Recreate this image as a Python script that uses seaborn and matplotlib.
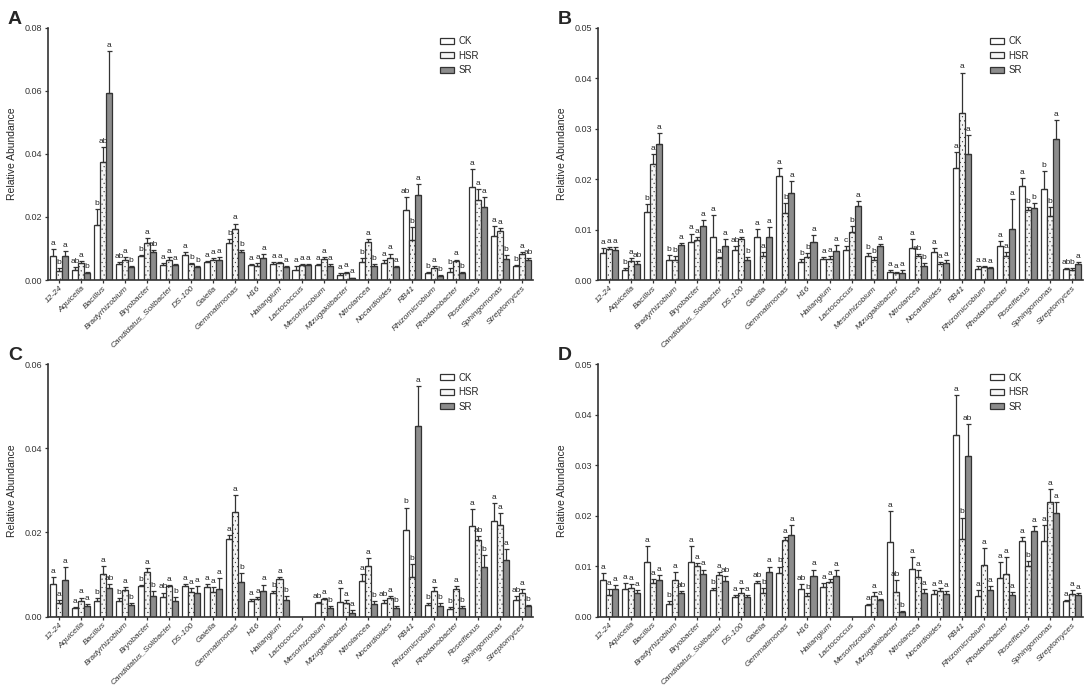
import numpy as np
import pandas as pd
import matplotlib
matplotlib.use("Agg")
import matplotlib.pyplot as plt
import seaborn as sns

genera = ["12-24", "Aquicella", "Bacillus", "Bradyrhizobium", "Bryobacter",
          "Candidatus_Solibacter", "DS-100", "Gaiella", "Gemmatimonas", "H16",
          "Haliangium", "Lactococcus", "Mesorhizobium", "Mizugakiibacter",
          "Nitrolancea", "Nocardioides", "RB41", "Rhizomicrobium",
          "Rhodanobacter", "Roseiflexus", "Sphingomonas", "Streptomyces"]
groups = ["CK", "HSR", "SR"]

# Panel A
A_ck = [0.0076, 0.0033, 0.0175, 0.0050, 0.0075, 0.0047, 0.0079, 0.0058, 0.0118, 0.0047, 0.0050,
        0.0032, 0.0048, 0.0015, 0.0056, 0.0054, 0.0222, 0.0021, 0.0024, 0.0296, 0.0141, 0.0046]
A_hsr = [0.0030, 0.0055, 0.0375, 0.0065, 0.0117, 0.0063, 0.0050, 0.0064, 0.0162, 0.0046, 0.0053,
         0.0047, 0.0066, 0.0023, 0.0120, 0.0069, 0.0127, 0.0038, 0.0059, 0.0253, 0.0154, 0.0082]
A_sr = [0.0076, 0.0023, 0.0593, 0.0040, 0.0088, 0.0048, 0.0042, 0.0064, 0.0090, 0.0069, 0.0040,
        0.0047, 0.0044, 0.0006, 0.0043, 0.0040, 0.0270, 0.0014, 0.0022, 0.0233, 0.0067, 0.0065]
A_ck_err = [0.0021, 0.0007, 0.0050, 0.0006, 0.0004, 0.0007, 0.0010, 0.0003, 0.0013, 0.0005, 0.0006,
            0.0012, 0.0003, 0.0008, 0.0014, 0.0008, 0.0042, 0.0004, 0.0013, 0.0055, 0.0030, 0.0002]
A_hsr_err = [0.0008, 0.0005, 0.0047, 0.0008, 0.0016, 0.0010, 0.0005, 0.0006, 0.0017, 0.0008, 0.0003,
             0.0005, 0.0006, 0.0004, 0.0010, 0.0015, 0.0040, 0.0005, 0.0006, 0.0035, 0.0012, 0.0007]
A_sr_err = [0.0015, 0.0003, 0.0133, 0.0005, 0.0007, 0.0003, 0.0003, 0.0008, 0.0006, 0.0012, 0.0003,
            0.0003, 0.0008, 0.0002, 0.0008, 0.0003, 0.0033, 0.0003, 0.0003, 0.0030, 0.0012, 0.0005]
A_ck_lab = ["a", "ab", "b", "ab", "b", "a", "a", "a", "b", "a", "a",
            "a", "a", "a", "b", "a", "ab", "b", "b", "a", "a", "b"]
A_hsr_lab = ["b", "a", "ab", "a", "a", "a", "b", "a", "a", "a", "a",
             "a", "a", "a", "a", "a", "b", "a", "a", "a", "a", "a"]
A_sr_lab = ["a", "b", "a", "b", "ab", "a", "b", "a", "b", "a", "a",
            "a", "a", "a", "b", "a", "a", "b", "b", "a", "b", "ab"]

# Panel B
B_ck = [0.0053, 0.0020, 0.0134, 0.0040, 0.0075, 0.0085, 0.0060, 0.0086, 0.0206, 0.0036, 0.0041,
        0.0060, 0.0047, 0.0015, 0.0063, 0.0055, 0.0221, 0.0022, 0.0067, 0.0186, 0.0180, 0.0021]
B_hsr = [0.0061, 0.0037, 0.0229, 0.0040, 0.0080, 0.0043, 0.0081, 0.0047, 0.0132, 0.0046, 0.0041,
         0.0095, 0.0040, 0.0013, 0.0047, 0.0032, 0.0331, 0.0026, 0.0048, 0.0138, 0.0127, 0.0020]
B_sr = [0.0059, 0.0032, 0.0270, 0.0069, 0.0108, 0.0068, 0.0040, 0.0085, 0.0172, 0.0076, 0.0057,
        0.0147, 0.0067, 0.0014, 0.0028, 0.0034, 0.0249, 0.0024, 0.0101, 0.0142, 0.0280, 0.0032]
B_ck_err = [0.0011, 0.0003, 0.0017, 0.0009, 0.0017, 0.0044, 0.0008, 0.0015, 0.0016, 0.0005, 0.0005,
            0.0008, 0.0006, 0.0004, 0.0019, 0.0009, 0.0033, 0.0006, 0.0011, 0.0016, 0.0035, 0.0002]
B_hsr_err = [0.0005, 0.0006, 0.0021, 0.0007, 0.0005, 0.0003, 0.0004, 0.0008, 0.0020, 0.0007, 0.0007,
             0.0012, 0.0005, 0.0002, 0.0004, 0.0004, 0.0080, 0.0001, 0.0008, 0.0007, 0.0017, 0.0003]
B_sr_err = [0.0007, 0.0005, 0.0021, 0.0004, 0.0010, 0.0013, 0.0006, 0.0020, 0.0024, 0.0013, 0.0013,
            0.0009, 0.0005, 0.0006, 0.0006, 0.0005, 0.0039, 0.0002, 0.0060, 0.0010, 0.0036, 0.0004]
B_ck_lab = ["a", "b", "b", "b", "a", "a", "ab", "a", "a", "b", "a",
            "c", "b", "a", "a", "a", "a", "a", "a", "a", "b", "ab"]
B_hsr_lab = ["a", "a", "a", "b", "a", "a", "a", "a", "b", "b", "a",
             "b", "b", "a", "ab", "a", "a", "a", "a", "b", "b", "b"]
B_sr_lab = ["a", "ab", "a", "a", "a", "a", "b", "a", "a", "a", "a",
            "a", "a", "a", "b", "a", "a", "a", "a", "b", "a", "a"]

# Panel C
C_ck = [0.0077, 0.0020, 0.0038, 0.0038, 0.0072, 0.0046, 0.0072, 0.0070, 0.0184, 0.0036, 0.0056,
        0.0, 0.0032, 0.0035, 0.0084, 0.0033, 0.0205, 0.0028, 0.0019, 0.0215, 0.0228, 0.0039]
C_hsr = [0.0032, 0.0037, 0.0102, 0.0062, 0.0106, 0.0072, 0.0059, 0.0059, 0.0249, 0.0041, 0.0090,
         0.0, 0.0042, 0.0032, 0.0120, 0.0043, 0.0094, 0.0061, 0.0065, 0.0181, 0.0217, 0.0057]
C_sr = [0.0087, 0.0025, 0.0068, 0.0027, 0.0049, 0.0038, 0.0057, 0.0065, 0.0083, 0.0061, 0.0040,
        0.0, 0.0021, 0.0009, 0.0030, 0.0020, 0.0454, 0.0026, 0.0020, 0.0118, 0.0134, 0.0025]
C_ck_err = [0.0016, 0.0003, 0.0006, 0.0006, 0.0003, 0.0011, 0.0006, 0.0008, 0.0010, 0.0006, 0.0004,
            0.0, 0.0003, 0.0033, 0.0017, 0.0006, 0.0054, 0.0005, 0.0003, 0.0040, 0.0042, 0.0009]
C_hsr_err = [0.0008, 0.0008, 0.0018, 0.0007, 0.0009, 0.0003, 0.0009, 0.0012, 0.0040, 0.0005, 0.0004,
             0.0, 0.0002, 0.0007, 0.0019, 0.0006, 0.0030, 0.0009, 0.0007, 0.0010, 0.0028, 0.0008]
C_sr_err = [0.0030, 0.0004, 0.0009, 0.0005, 0.0011, 0.0008, 0.0015, 0.0026, 0.0021, 0.0015, 0.0009,
            0.0, 0.0003, 0.0006, 0.0006, 0.0004, 0.0094, 0.0005, 0.0004, 0.0028, 0.0027, 0.0003]
C_ck_lab = ["a", "a", "b", "b", "b", "ab", "a", "a", "a", "a", "b",
            "", "ab", "a", "a", "ab", "b", "b", "b", "a", "a", "ab"]
C_hsr_lab = ["a", "a", "a", "a", "a", "a", "a", "a", "a", "a", "a",
             "", "a", "a", "a", "a", "b", "a", "a", "ab", "a", "a"]
C_sr_lab = ["a", "a", "ab", "b", "b", "b", "a", "a", "b", "a", "b",
            "", "b", "a", "b", "b", "a", "b", "b", "b", "a", "b"]

# Panel D
D_ck = [0.0072, 0.0055, 0.0107, 0.0025, 0.0108, 0.0052, 0.0038, 0.0066, 0.0086, 0.0055, 0.0058,
        0.0, 0.0022, 0.0147, 0.0095, 0.0045, 0.0360, 0.0041, 0.0077, 0.0149, 0.0149, 0.0030]
D_hsr = [0.0043, 0.0057, 0.0066, 0.0072, 0.0100, 0.0083, 0.0047, 0.0046, 0.0152, 0.0040, 0.0068,
         0.0, 0.0040, 0.0049, 0.0079, 0.0050, 0.0153, 0.0103, 0.0084, 0.0100, 0.0226, 0.0045]
D_sr = [0.0055, 0.0046, 0.0073, 0.0047, 0.0085, 0.0070, 0.0039, 0.0089, 0.0162, 0.0080, 0.0080,
        0.0, 0.0032, 0.0008, 0.0047, 0.0045, 0.0317, 0.0053, 0.0043, 0.0170, 0.0205, 0.0043]
D_ck_err = [0.0014, 0.0012, 0.0032, 0.0006, 0.0031, 0.0005, 0.0005, 0.0005, 0.0013, 0.0009, 0.0008,
            0.0, 0.0003, 0.0062, 0.0022, 0.0008, 0.0078, 0.0012, 0.0030, 0.0009, 0.0032, 0.0002]
D_hsr_err = [0.0011, 0.0008, 0.0009, 0.0016, 0.0005, 0.0005, 0.0009, 0.0010, 0.0005, 0.0007, 0.0007,
             0.0, 0.0008, 0.0024, 0.0013, 0.0007, 0.0043, 0.0033, 0.0033, 0.0009, 0.0027, 0.0007]
D_sr_err = [0.0008, 0.0007, 0.0009, 0.0004, 0.0008, 0.0011, 0.0004, 0.0010, 0.0019, 0.0013, 0.0012,
            0.0, 0.0002, 0.0002, 0.0008, 0.0006, 0.0064, 0.0007, 0.0006, 0.0009, 0.0022, 0.0004]
D_ck_lab = ["a", "a", "a", "b", "a", "b", "a", "ab", "b", "ab", "a",
            "", "a", "a", "a", "a", "a", "a", "a", "a", "a", "a"]
D_hsr_lab = ["a", "a", "a", "a", "a", "a", "a", "b", "a", "b", "a",
             "", "a", "ab", "a", "a", "b", "a", "a", "b", "a", "a"]
D_sr_lab = ["a", "a", "a", "ab", "a", "ab", "a", "a", "a", "a", "a",
            "", "a", "b", "a", "a", "ab", "a", "a", "a", "a", "a"]

panels = [
    ("A", [A_ck, A_hsr, A_sr], [A_ck_err, A_hsr_err, A_sr_err], [A_ck_lab, A_hsr_lab, A_sr_lab], 0.08, 0.02),
    ("B", [B_ck, B_hsr, B_sr], [B_ck_err, B_hsr_err, B_sr_err], [B_ck_lab, B_hsr_lab, B_sr_lab], 0.05, 0.01),
    ("C", [C_ck, C_hsr, C_sr], [C_ck_err, C_hsr_err, C_sr_err], [C_ck_lab, C_hsr_lab, C_sr_lab], 0.06, 0.02),
    ("D", [D_ck, D_hsr, D_sr], [D_ck_err, D_hsr_err, D_sr_err], [D_ck_lab, D_hsr_lab, D_sr_lab], 0.05, 0.01),
]

sns.set_style("ticks")
plt.rcParams["font.family"] = ["Liberation Sans", "DejaVu Sans"]
plt.rcParams["hatch.linewidth"] = 0.3
plt.rcParams["hatch.color"] = "#c8c8c8"

colors = {"CK": "#ffffff", "HSR": "#f6f6f6", "SR": "#8c8c8c"}
hatches = {"CK": "", "HSR": "....", "SR": ""}
edge = "#333333"

fig = plt.figure(figsize=(10.84, 6.85), dpi=100)
positions = [(0.0443, 0.5912), (0.5517, 0.5912), (0.0443, 0.1), (0.5517, 0.1)]

for (letter, vals, errs, labs, ymax, ystep), (lx, by) in zip(panels, positions):
    ax = fig.add_axes([lx, by, 0.4474, 0.3685])
    rows = []
    for g, v in zip(groups, vals):
        for name, val in zip(genera, v):
            rows.append({"genus": name, "group": g, "value": val})
    df = pd.DataFrame(rows)
    sns.barplot(data=df, x="genus", y="value", hue="group", order=genera, hue_order=groups,
                palette=colors, errorbar=None, width=0.82, edgecolor=edge, linewidth=0.9,
                saturation=1, ax=ax)

    for cont, g, v, e, lab in zip(ax.containers, groups, vals, errs, labs):
        xs = []
        for bar in cont:
            bar.set_hatch(hatches[g])
            xs.append(bar.get_x() + bar.get_width() / 2)
        xs = np.array(xs)
        v = np.array(v)
        e = np.array(e)
        m = v > 0
        ax.errorbar(xs[m], v[m], yerr=[np.zeros(m.sum()), e[m]], fmt="none",
                    ecolor=edge, elinewidth=0.9, capsize=1.8, capthick=0.9)
        for x, top, t in zip(xs, v + e, lab):
            if t:
                ax.annotate(t, (x, top), xytext=(0, 1.5), textcoords="offset points",
                            ha="center", va="bottom", fontsize=6, color="#222222")

    ax.set_xlim(-0.5, len(genera) - 0.5)
    ax.set_ylim(0, ymax)
    ticks = np.arange(0, ymax + ystep / 2, ystep)
    ax.set_yticks(ticks)
    ax.set_yticklabels([f"{t:.2f}" for t in ticks], fontsize=6.5)
    ax.set_xticks(range(len(genera)))
    ax.set_xticklabels(genera, rotation=45, ha="right", rotation_mode="anchor",
                       fontsize=6, style="italic")
    ax.set_xlabel("")
    ax.set_ylabel("Relative Abundance", fontsize=7.5, labelpad=5)
    ax.tick_params(axis="both", length=2.5, width=0.9, colors="#333333", pad=2)
    ax.tick_params(axis="x", pad=1)
    sns.despine(ax=ax)
    for s in ["left", "bottom"]:
        ax.spines[s].set_color("#333333")
        ax.spines[s].set_linewidth(1.2)

    leg = ax.legend(loc="upper left", bbox_to_anchor=(0.79, 1.0), frameon=False, fontsize=7,
                    handlelength=1.4, handleheight=0.55, handletextpad=0.5, labelspacing=0.45)
    for h in leg.legend_handles:
        h.set_edgecolor(edge)
        h.set_linewidth(0.9)

    fig.text(lx - 0.037, by + 0.3685 + 0.012, letter, fontsize=14, fontweight="bold", va="center")

fig.savefig("out.png", dpi=100)
